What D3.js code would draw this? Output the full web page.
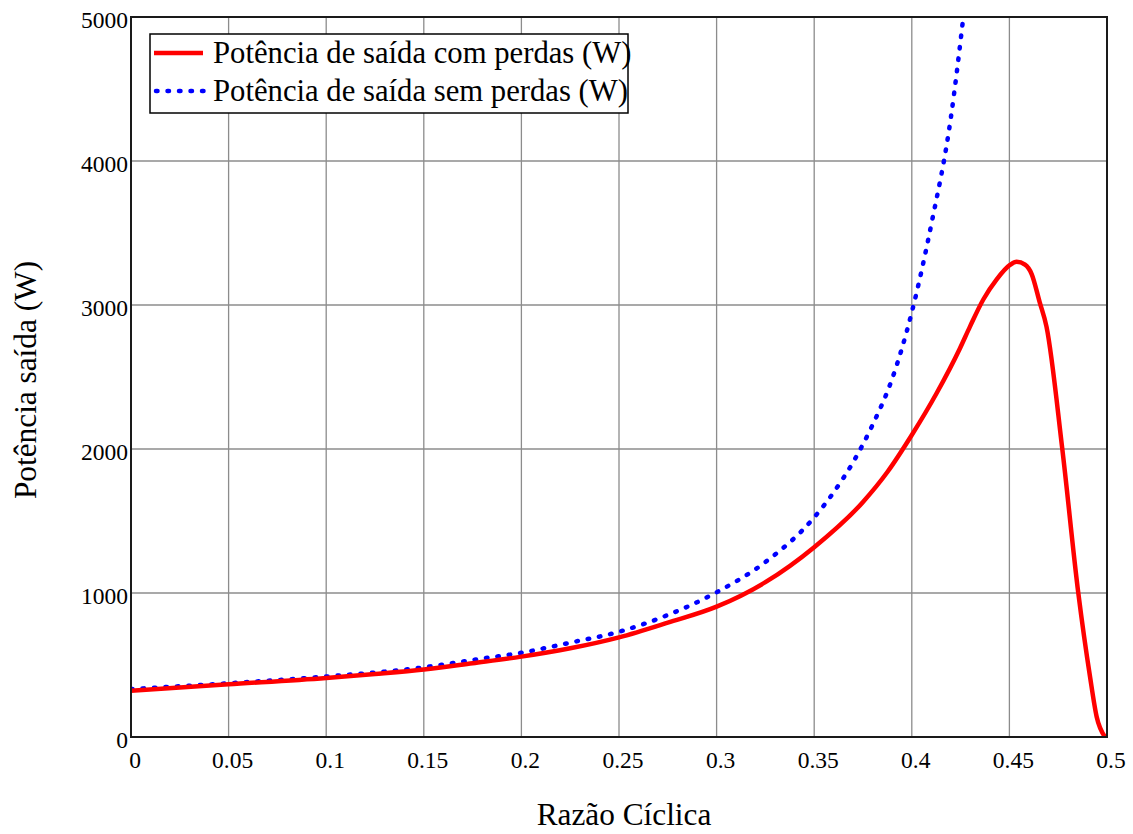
<!DOCTYPE html>
<html>
<head>
<meta charset="utf-8">
<script src="https://cdn.jsdelivr.net/npm/d3@7"></script>
<style>
  html, body { margin: 0; padding: 0; background: #fff; }
  svg { display: block; }
  text { font-family: "Liberation Serif", "Times New Roman", serif; fill: #000; }
</style>
</head>
<body>
<svg id="chart" width="1133" height="834"></svg>
<script>
// Duty cycle (razão cíclica) vs. output power, with and without losses
const dutyLoss = [0, 0.05, 0.1, 0.125, 0.15, 0.175, 0.2, 0.225, 0.25, 0.275, 0.3, 0.325, 0.35, 0.375, 0.3875, 0.4, 0.4127, 0.4247, 0.4298, 0.4367, 0.4435, 0.4503, 0.4537, 0.458, 0.4614, 0.4655, 0.469, 0.4771, 0.4853, 0.4913, 0.4947, 0.499];
const powerLoss = [322, 366, 410, 437, 468, 512, 558, 616, 692, 794, 905, 1075, 1318, 1632, 1840, 2097, 2387, 2700, 2850, 3040, 3178, 3278, 3300, 3280, 3215, 3020, 2850, 2000, 1000, 419, 141, 0];

const dutyIdeal = [0, 0.05, 0.1, 0.15, 0.175, 0.2, 0.225, 0.25, 0.275, 0.3, 0.325, 0.35, 0.36, 0.37, 0.38, 0.39, 0.4, 0.41, 0.42, 0.4264];
const powerIdeal = [333, 373, 420, 484, 535, 585, 655, 731, 847, 1005, 1215, 1525, 1700, 1910, 2170, 2490, 2950, 3560, 4300, 5000];

const xTicks = [0, 0.05, 0.1, 0.15, 0.2, 0.25, 0.3, 0.35, 0.4, 0.45, 0.5];
const xTickLabels = ["0", "0.05", "0.1", "0.15", "0.2", "0.25", "0.3", "0.35", "0.4", "0.45", "0.5"];
const yTicks = [0, 1000, 2000, 3000, 4000, 5000];
const yTickLabels = ["0", "1000", "2000", "3000", "4000", "5000"];

const seriesNames = ["Potência de saída com perdas (W)", "Potência de saída sem perdas (W)"];
const xTitle = "Razão Cíclica";
const yTitle = "Potência saída (W)";

const svg = d3.select("#chart");
const plot = { left: 131, right: 1107, top: 17, bottom: 737 };

const x = d3.scaleLinear().domain([0, 0.5]).range([plot.left, plot.right]);
const y = d3.scaleLinear().domain([0, 5000]).range([plot.bottom, plot.top]);

// grid
const grid = svg.append("g");
grid.selectAll("line.vx").data(xTicks.slice(1, -1)).join("line")
  .attr("x1", d => x(d)).attr("x2", d => x(d))
  .attr("y1", plot.top).attr("y2", plot.bottom)
  .attr("stroke", "#8c8c8c").attr("stroke-width", 1.3);
grid.selectAll("line.hy").data(yTicks.slice(1, -1)).join("line")
  .attr("x1", plot.left).attr("x2", plot.right)
  .attr("y1", d => y(d)).attr("y2", d => y(d))
  .attr("stroke", "#8c8c8c").attr("stroke-width", 1.3);

// clip for data
svg.append("clipPath").attr("id", "plotclip").append("rect")
  .attr("x", plot.left).attr("y", plot.top - 1)
  .attr("width", plot.right - plot.left).attr("height", plot.bottom - plot.top + 2);

const line = d3.line().x(d => x(d[0])).y(d => y(d[1])).curve(d3.curveMonotoneX);

const ideal = dutyIdeal.map((d, i) => [d, powerIdeal[i]]);
const loss = dutyLoss.map((d, i) => [d, powerLoss[i]]);

const dataG = svg.append("g").attr("clip-path", "url(#plotclip)");
dataG.append("path").datum(ideal)
  .attr("d", line).attr("fill", "none")
  .attr("stroke", "#0000ff").attr("stroke-width", 4.5)
  .attr("stroke-linecap", "round").attr("stroke-dasharray", "1.5,10");
dataG.append("path").datum(loss)
  .attr("d", line).attr("fill", "none")
  .attr("stroke", "#ff0000").attr("stroke-width", 4.5)
  .attr("stroke-linejoin", "round");

// frame
svg.append("rect")
  .attr("x", plot.left).attr("y", plot.top)
  .attr("width", plot.right - plot.left).attr("height", plot.bottom - plot.top)
  .attr("fill", "none").attr("stroke", "#1a1a1a").attr("stroke-width", 2);

// tick labels
svg.append("g").selectAll("text").data(xTicks).join("text")
  .attr("x", d => x(d) + 4).attr("y", 768)
  .attr("text-anchor", "middle").attr("font-size", 23.5)
  .text((d, i) => xTickLabels[i]);
svg.append("g").selectAll("text").data(yTicks).join("text")
  .attr("x", 128).attr("y", d => y(d) + 11)
  .attr("text-anchor", "end").attr("font-size", 23.5)
  .text((d, i) => yTickLabels[i]);

// axis titles
svg.append("text").attr("x", 624).attr("y", 825)
  .attr("text-anchor", "middle").attr("font-size", 31.3).text(xTitle);
svg.append("text").attr("transform", "translate(36,380) rotate(-90)")
  .attr("text-anchor", "middle").attr("font-size", 31.3).text(yTitle);

// legend
const lg = svg.append("g");
lg.append("rect").attr("x", 150).attr("y", 34).attr("width", 478).attr("height", 79)
  .attr("fill", "#fff").attr("stroke", "#000").attr("stroke-width", 1.5);
lg.append("line").attr("x1", 154).attr("x2", 203).attr("y1", 53).attr("y2", 53)
  .attr("stroke", "#ff0000").attr("stroke-width", 4.5);
lg.append("line").attr("x1", 156).attr("x2", 204).attr("y1", 91).attr("y2", 91)
  .attr("stroke", "#0000ff").attr("stroke-width", 4.5)
  .attr("stroke-linecap", "round").attr("stroke-dasharray", "1.5,10");
lg.append("text").attr("x", 213).attr("y", 63).attr("font-size", 30.7).text(seriesNames[0]);
lg.append("text").attr("x", 213).attr("y", 101).attr("font-size", 30.7).text(seriesNames[1]);
</script>
</body>
</html>
